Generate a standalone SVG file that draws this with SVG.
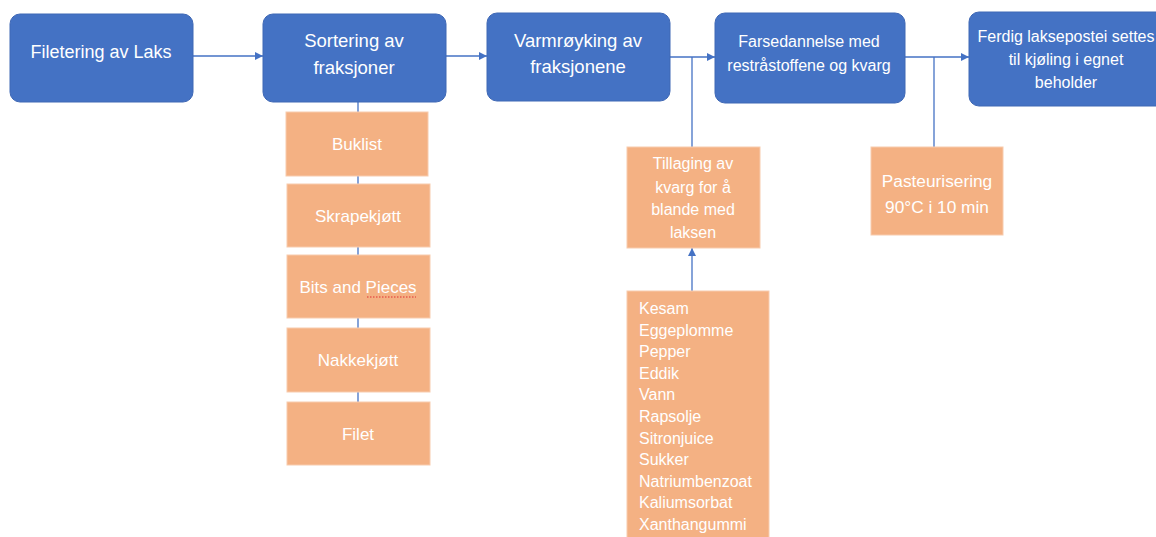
<svg xmlns="http://www.w3.org/2000/svg" width="1156" height="537" viewBox="0 0 1156 537">
<style>
.blue{fill:#4472C4;stroke:#3F68B5;stroke-width:1}
.or{fill:#F4B183;stroke:#F8CBAD;stroke-width:1}
.t{font-family:"Liberation Sans",Arial,sans-serif;fill:#FFFFFF;text-anchor:middle}
.l{font-family:"Liberation Sans",Arial,sans-serif;fill:#FFFFFF;font-size:16px}
.c{stroke:#4472C4;stroke-width:1.3;fill:none}
</style>
<defs>
<marker id="ah" viewBox="0 0 10 10" refX="10" refY="5" markerWidth="8" markerHeight="8" markerUnits="userSpaceOnUse" orient="auto">
<path d="M0,0 L10,5 L0,10 z" fill="#4472C4"/>
</marker>
</defs>
<rect width="1156" height="537" fill="#FFFFFF"/>
<g id="connectors">
<line class="c" x1="358" y1="102" x2="358" y2="402"/>
<line class="c" x1="193" y1="56" x2="263" y2="56" marker-end="url(#ah)"/>
<line class="c" x1="446" y1="56" x2="487" y2="56" marker-end="url(#ah)"/>
<line class="c" x1="670" y1="57" x2="715" y2="57" marker-end="url(#ah)"/>
<line class="c" x1="692" y1="57" x2="692" y2="147"/>
<line class="c" x1="905" y1="57" x2="969" y2="57" marker-end="url(#ah)"/>
<line class="c" x1="934" y1="57" x2="934" y2="147"/>
<line class="c" x1="692" y1="291" x2="692" y2="248" marker-end="url(#ah)"/>
</g>
<g id="n1"><rect class="blue" x="10" y="14" width="183" height="88" rx="10"/><text class="t" x="101" y="58" font-size="18">Filetering av Laks</text></g>
<g id="n2"><rect class="blue" x="263" y="14" width="183" height="88" rx="10"/><text class="t" x="354" y="47" font-size="18.5">Sortering av</text><text class="t" x="354" y="74" font-size="18.5">fraksjoner</text></g>
<g id="n3"><rect class="blue" x="487" y="13" width="183" height="88" rx="10"/><text class="t" x="578" y="47" font-size="18.5">Varmrøyking av</text><text class="t" x="578" y="73" font-size="18.5">fraksjonene</text></g>
<g id="n4"><rect class="blue" x="715" y="13" width="190" height="90" rx="10"/><text class="t" x="809" y="47" font-size="16">Farsedannelse med</text><text class="t" x="809" y="71" font-size="16">restråstoffene og kvarg</text></g>
<g id="n5"><rect class="blue" x="969" y="12" width="200" height="94" rx="10"/><text class="t" x="1066" y="42" font-size="16">Ferdig laksepostei settes</text><text class="t" x="1066" y="65" font-size="16">til kjøling i egnet</text><text class="t" x="1066" y="88" font-size="16">beholder</text></g>
<g id="buklist"><rect class="or" x="286" y="112" width="142" height="64"/><text class="t" x="357" y="150" font-size="17">Buklist</text></g>
<g id="skrapekjott"><rect class="or" x="287" y="184" width="143" height="63"/><text class="t" x="358" y="222" font-size="17">Skrapekjøtt</text></g>
<g id="bits"><rect class="or" x="287" y="255" width="143" height="63"/><text class="t" x="358" y="293" font-size="17">Bits and Pieces</text><line x1="367" y1="297" x2="416" y2="297" stroke="#E03030" stroke-width="1" stroke-dasharray="1.5,1.5"/></g>
<g id="nakkekjott"><rect class="or" x="287" y="328" width="143" height="64"/><text class="t" x="358" y="366" font-size="17">Nakkekjøtt</text></g>
<g id="filet"><rect class="or" x="287" y="402" width="143" height="63"/><text class="t" x="358" y="440" font-size="17">Filet</text></g>
<g id="tillaging"><rect class="or" x="627" y="147" width="133" height="101"/><text class="t" x="693" y="169" font-size="16">Tillaging av</text><text class="t" x="693" y="193" font-size="16">kvarg for å</text><text class="t" x="693" y="215" font-size="16">blande med</text><text class="t" x="693" y="238" font-size="16">laksen</text></g>
<g id="pasteurisering"><rect class="or" x="871" y="147" width="132" height="88"/><text class="t" x="937" y="187" font-size="17.3">Pasteurisering</text><text class="t" x="937" y="213" font-size="17.3">90°C i 10 min</text></g>
<g id="ingredienser"><rect class="or" x="627" y="291" width="142" height="250"/>
<text class="l" x="639" y="314">Kesam</text>
<text class="l" x="639" y="335.6">Eggeplomme</text>
<text class="l" x="639" y="357.2">Pepper</text>
<text class="l" x="639" y="378.8">Eddik</text>
<text class="l" x="639" y="400.4">Vann</text>
<text class="l" x="639" y="422">Rapsolje</text>
<text class="l" x="639" y="443.6">Sitronjuice</text>
<text class="l" x="639" y="465.2">Sukker</text>
<text class="l" x="639" y="486.8">Natriumbenzoat</text>
<text class="l" x="639" y="508.4">Kaliumsorbat</text>
<text class="l" x="639" y="530">Xanthangummi</text>
</g>
</svg>
